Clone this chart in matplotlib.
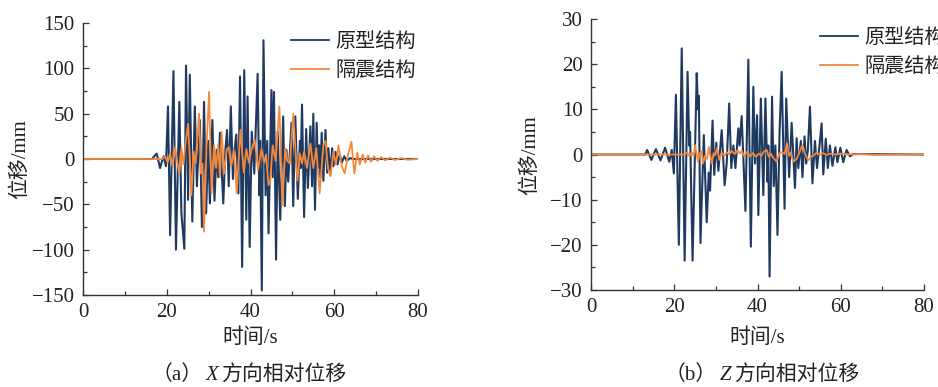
import matplotlib
matplotlib.use("Agg")
import matplotlib.pyplot as plt
import numpy as np
from matplotlib.ticker import MultipleLocator
from matplotlib.offsetbox import TextArea, HPacker, AnnotationBbox

plt.rcParams["font.family"] = ["Liberation Serif", "Noto Sans CJK SC"]
plt.rcParams["axes.unicode_minus"] = True

FAM = ["Liberation Serif", "Noto Sans CJK SC"]
BLUE = "#1f3a60"
ORANGE = "#f5883a"

# (a) X 方向：原型结构（峰谷读数）
x_orig_t = [0, 16.5, 17.0, 17.6, 18.1, 18.4, 18.9, 19.3, 19.8, 20.3, 20.8, 21.6, 22.2, 23.0,
            23.5, 24.2, 24.6, 25.1, 25.5, 26.1, 26.7, 27.2, 27.9, 28.4, 28.9, 29.4, 29.9,
            30.3, 30.9, 31.4, 31.9, 32.3, 32.7, 33.5, 34.0, 34.4, 34.8, 35.3, 35.8, 36.2,
            36.6, 37.1, 37.5, 38.0, 38.5, 39.0, 39.3, 39.8, 40.3, 40.9, 41.7, 42.1, 42.3,
            42.7, 43.1, 43.6, 44.0, 44.3, 45.0, 45.3, 45.6, 46.1, 46.5, 47.1, 47.8, 48.2,
            48.6, 49.0, 49.8, 50.2, 50.7, 51.3, 51.8, 52.0, 52.3, 52.8, 53.3, 53.7, 54.3,
            54.7, 55.0, 55.4, 55.8, 56.1, 56.4, 56.7, 57.0, 57.4, 57.9, 58.3, 58.6, 59.1,
            59.5, 59.8, 60.3, 60.8, 61.3, 61.8, 62.4, 63.0, 63.8, 64.5, 80]
x_orig_v = [0, 0, 3, 6, -4, -10, -2, 3, -8, 58, -84, 97, -100, 63,
            -60, -99, 103, -45, 93, -69, 58, -30, 43, -75, 63, -60, 20,
            -49, 43, -46, 10, -20, 29, -49, 10, 32, -30, 58, -22, 10,
            27, -38, 91, -119, 98, -67, 69, -97, 30, -16, 94, -40, 20,
            -145, 131, -40, 20, -82, 76, -20, 74, -111, 30, -67, 47, -52,
            10, -25, 40, -52, 47, -44, 20, -10, 60, -64, 33, -32, 36,
            -30, 50, -56, 40, -10, 15, -20, 29, -24, 32, -15, 12, -17,
            12, -8, 8, -6, 5, -4, 3, -2, 1, 0, 0]

# (a) X 方向：隔震结构
x_iso_t = [0, 19.0, 19.6, 20.2, 20.8, 21.4, 22.0, 22.5, 23.0, 23.5, 24.0, 24.5, 25.1, 25.9,
           26.4, 26.9, 27.7, 28.2, 28.5, 28.9, 29.5, 30.1, 30.7, 31.3, 31.8, 32.3, 32.7,
           33.1, 33.7, 34.3, 34.8, 35.4, 36.0, 36.7, 37.6, 38.4, 39.0, 39.6, 40.2, 41.0,
           41.8, 42.6, 43.3, 43.7, 44.3, 44.7, 45.3, 46.0, 46.9, 47.6, 48.3, 48.8, 49.4,
           50.2, 51.2, 51.8, 52.3, 52.8, 53.5, 54.3, 55.0, 55.7, 56.5, 57.4, 57.9, 58.5,
           59.1, 59.8, 60.4, 61.0, 61.8, 62.5, 63.3, 64.1, 64.8, 65.5, 66.1, 66.8, 67.4,
           68.1, 68.8, 69.5, 70.3, 71.2, 72.2, 73.3, 74.5, 76.0, 77.5, 80]
x_iso_v = [0, 0, 3, -4, 6, -8, 13, -3, -16, 12, -6, 18, 39, -40,
           8, -5, 50, -16, -5, -80, 15, 74, -38, 15, -10, 16, -20,
           30, -16, 10, 13, -8, 10, -37, 32, -15, 11, -4, 10, 21,
           -12, 11, -4, 5, -29, -25, 15, -2, 58, -51, 12, -2, -5,
           50, -24, 6, -5, 8, -10, 17, -10, 12, -38, 15, 20, -10,
           -19, 8, -6, 15, -8, -16, 5, 19, -16, 7, -6, 5, -4,
           4, -3, 3, -2, 2, -1.5, 1.5, -1, 1, -0.8, 0]

# (b) Z 方向：原型结构
z_orig_t = [0, 13.0, 13.5, 14.5, 15.6, 16.7, 17.8, 18.8, 19.4, 19.9, 20.4, 21.1, 21.8, 22.5,
            23.2, 23.6, 23.8, 24.4, 25.4, 25.7, 25.9, 26.3, 27.1, 27.8, 28.3, 28.6, 29.2,
            29.6, 30.1, 30.6, 31.4, 32.1, 32.6, 33.2, 33.7, 34.2, 34.7, 35.4, 35.7, 36.2,
            37.1, 37.8, 38.4, 39.0, 39.4, 39.9, 40.2, 40.8, 41.4, 41.9, 42.4, 42.6, 42.9,
            43.5, 43.9, 44.3, 44.8, 45.3, 45.8, 46.5, 46.9, 47.6, 48.2, 49.0, 49.4, 49.8,
            50.4, 50.8, 51.3, 51.7, 52.1, 52.6, 53.2, 53.8, 54.3, 54.9, 55.4, 55.8, 56.4,
            56.9, 57.4, 58.0, 58.7, 59.2, 59.9, 60.6, 61.4, 62.2, 63.0, 80]
z_orig_v = [0, 0, 1.0, -1.2, 1.2, -1.3, 1.5, -1.6, 1.0, -4.2, 13.2, -20, 23.5, -23.5,
            18.3, 2, 5, -23.5, 18, 10, 13, -19.6, 4.3, -15, -4, -8, 7.5,
            -4.5, 2.6, -3.6, 5.4, -6.8, -2, 11.3, -3, 2, -3, 5.8, 2, 8.5,
            -12.5, 21, -20.4, 15, -2, 8.7, -13.4, 12.4, -9, 12.4, -6, 2, -27,
            12.8, -7, 2, -17.8, 5, 18.3, -12, 12.4, -5, 7, -7.4, 3.6, -3,
            3, -5, 4, -2, 1, 10.6, -6.4, 3, -3, 2, 6.9, -4.4, 3.5,
            -3, 2, -2.5, 1.6, -1.7, 1.5, -1.7, 1.0, -0.4, 0.1, 0]

# (b) Z 方向：隔震结构
z_iso_t = [0, 22.5, 23.1, 23.6, 24.2, 24.7, 25.0, 25.3, 25.7, 26.1, 26.6, 26.9, 27.4, 27.9,
           28.3, 29.0, 29.5, 29.8, 30.3, 30.8, 31.4, 32.0, 32.6, 33.2, 33.8, 34.5, 35.2,
           35.8, 36.2, 36.8, 37.5, 38.2, 38.9, 39.6, 40.3, 40.9, 41.5, 42.2, 42.7, 43.2,
           43.7, 44.6, 45.3, 45.9, 46.5, 47.1, 47.6, 48.0, 48.6, 49.4, 50.0, 50.8, 51.4,
           52.2, 52.8, 53.4, 54.2, 55.0, 55.8, 56.6, 57.5, 58.5, 60.0, 62.0, 65.0, 68.0, 80]
z_iso_v = [0, 0, 0.5, -0.3, 0.4, -0.3, 2.1, 0.5, -1.6, 0.2, 0.8, -2.0, -0.3, -1.0,
           1.7, -2.0, 0.3, -0.2, 1.5, -1.2, 0.4, -0.3, 0.5, 0.0, 0.8, 0.1, 0.9,
           0.2, 0.8, -0.4, 0.6, -0.4, 0.3, -0.5, 0.2, -0.3, 0.6, 1.0, -0.5, 0.2,
           -0.6, -1.6, 0.3, 0.5, 0.1, 2.5, -0.3, 0.4, -1.6, -1.0, 0.3, 2.1, 0.2,
           -1.3, -0.5, -0.3, 0.4, 0.0, 0.3, -0.1, 0.2, 0.0, 0.2, 0.0, 0.1, -0.1, 0.1]

labels = ["原型结构", "隔震结构"]


def style_axes(ax, ylim, ymajor, yminor):
    ax.set_xlim(0, 80)
    ax.set_ylim(*ylim)
    ax.xaxis.set_major_locator(MultipleLocator(20))
    ax.xaxis.set_minor_locator(MultipleLocator(10))
    ax.yaxis.set_major_locator(MultipleLocator(ymajor))
    ax.yaxis.set_minor_locator(MultipleLocator(yminor))
    for s in ("top", "right"):
        ax.spines[s].set_visible(False)
    for s in ("left", "bottom"):
        ax.spines[s].set_color("#333333")
        ax.spines[s].set_linewidth(1.0)
    ax.tick_params(which="both", direction="in", colors="#333333", labelcolor="#222222",
                   labelsize=15, top=False, right=False)
    ax.tick_params(which="major", length=4, width=0.9, pad=6)
    ax.tick_params(which="minor", length=3, width=0.9)
    ax.patch.set_alpha(0)


def caption(fig, xy, tag, axis_letter):
    parts = [
        TextArea(f"（{tag}）", textprops=dict(family=FAM, size=15, color="#222222")),
        TextArea(axis_letter, textprops=dict(family=FAM, size=15, style="italic", color="#222222")),
        TextArea("方向相对位移", textprops=dict(family=FAM, size=15, color="#222222")),
    ]
    box = HPacker(children=parts, align="baseline", pad=0, sep=2)
    ab = AnnotationBbox(box, xy, xycoords="figure fraction", frameon=False,
                        box_alignment=(0.5, 0.5))
    fig.add_artist(ab)


W, H = 938, 387
fig = plt.figure(figsize=(W / 100, H / 100), dpi=100)

legend_kw = dict(bbox_transform=None, frameon=False, borderpad=0, borderaxespad=0,
                 handlelength=1.9, handletextpad=0.3, labelspacing=0.5,
                 prop=dict(family=FAM, size=14.5))
legend_kw["bbox_transform"] = fig.transFigure

ax1 = fig.add_axes([83 / W, 1 - 295 / H, (418 - 83) / W, (295 - 23) / H])
ax1.plot(x_orig_t, x_orig_v, color=BLUE, lw=1.5, label=labels[0])
ax1.plot(x_iso_t, x_iso_v, color=ORANGE, lw=1.3, label=labels[1])
style_axes(ax1, (-150, 150), 50, 25)
ax1.legend(loc="upper left", bbox_to_anchor=(291 / W, 1 - 33 / H), **legend_kw)

ax2 = fig.add_axes([591 / W, 1 - 290 / H, (924 - 591) / W, (290 - 19) / H])
ax2.plot(z_orig_t, z_orig_v, color=BLUE, lw=1.5, label=labels[0])
ax2.plot(z_iso_t, z_iso_v, color=ORANGE, lw=1.3, label=labels[1])
style_axes(ax2, (-30, 30), 10, 5)
ax2.legend(loc="upper left", bbox_to_anchor=(820 / W, 1 - 29 / H), **legend_kw)

for leg_ax in (ax1, ax2):
    leg = leg_ax.get_legend()
    for txt in leg.get_texts():
        txt.set_color("#222222")
    for ln in leg.get_lines():
        ln.set_linewidth(1.3)

# 轴标签
fig.text(20 / W, 1 - 159 / H, "位移/mm", rotation=90, family=FAM, size=15,
         ha="center", va="center", color="#222222")
fig.text(530 / W, 1 - 155 / H, "位移/mm", rotation=90, family=FAM, size=15,
         ha="center", va="center", color="#222222")
fig.text(250 / W, 1 - 338 / H, "时间/s", family=FAM, size=15,
         ha="center", va="center", color="#222222")
fig.text(757 / W, 1 - 338 / H, "时间/s", family=FAM, size=15,
         ha="center", va="center", color="#222222")

caption(fig, (249 / W, 1 - 375 / H), "a", "X")
caption(fig, (762 / W, 1 - 375 / H), "b", "Z")

fig.savefig("out.png", dpi=100)
